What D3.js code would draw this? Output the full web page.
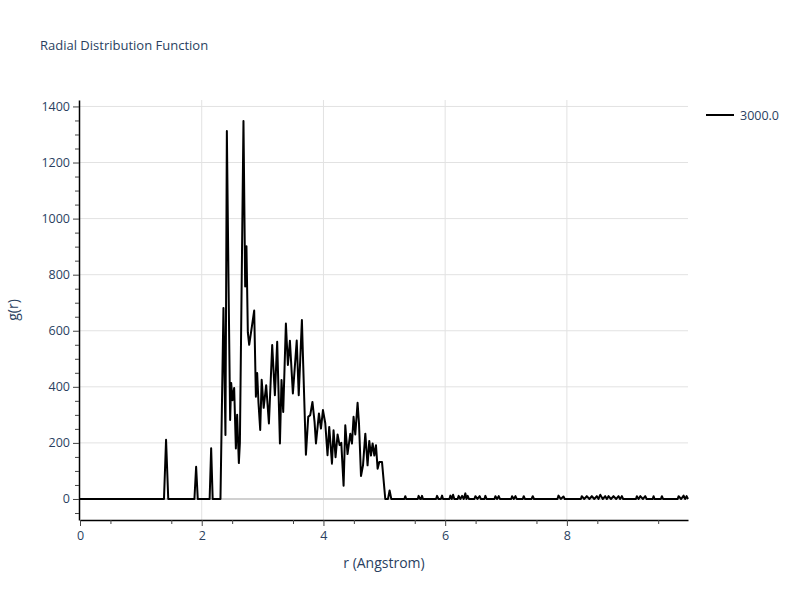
<!DOCTYPE html>
<html><head><meta charset="utf-8">
<script src="https://cdn.jsdelivr.net/npm/d3@7/dist/d3.min.js"></script>
<style>body{margin:0;background:#fff;} text{font-family:"Open Sans",sans-serif;}</style>
</head><body>
<svg id="c" width="800" height="600"></svg>
<script>
const title = "Radial Distribution Function";
const xLabel = "r (Angstrom)";
const yLabel = "g(r)";
const seriesName = "3000.0";
const xTicks = [0, 2, 4, 6, 8];
const yTicks = [0, 200, 400, 600, 800, 1000, 1200, 1400];

// r values (Angstrom)
const rValues = [
 0, 1.38, 1.414, 1.45, 1.88, 1.908, 1.935, 2.13, 2.155, 2.18,
 2.308, 2.357, 2.39, 2.413, 2.44, 2.467, 2.484, 2.505, 2.533, 2.561, 2.582, 2.61, 2.627,
 2.686, 2.714, 2.735, 2.758, 2.78, 2.824, 2.862, 2.89, 2.911, 2.933, 2.961, 2.985,
 3.018, 3.059, 3.104, 3.158, 3.202, 3.240, 3.285, 3.311, 3.339, 3.383, 3.416, 3.449,
 3.498, 3.561, 3.594, 3.646, 3.668, 3.712, 3.750, 3.783, 3.819, 3.854, 3.877, 3.926,
 3.959, 3.992, 4.030, 4.067, 4.095, 4.140, 4.166, 4.199, 4.232, 4.265, 4.293, 4.331,
 4.359, 4.396, 4.441, 4.469, 4.495, 4.523, 4.561, 4.584, 4.617, 4.650, 4.688, 4.725,
 4.753, 4.781, 4.808, 4.836, 4.863, 4.890, 4.918, 4.962, 5.016, 5.060, 5.087, 5.115,
 5.33, 5.345, 5.36, 5.55, 5.564, 5.59, 5.605, 5.620, 5.635, 5.85, 5.867, 5.89, 5.93, 5.949, 5.965,
 6.07, 6.086, 6.108, 6.130, 6.15, 6.205, 6.222, 6.25, 6.278, 6.305, 6.332, 6.35, 6.370, 6.39,
 6.48, 6.497, 6.53, 6.567, 6.585, 6.645, 6.661, 6.68, 6.81, 6.826, 6.853, 6.880, 6.90,
 7.085, 7.100, 7.128, 7.155, 7.175, 7.275, 7.291, 7.31, 7.42, 7.439, 7.46,
 7.845, 7.862, 7.90, 7.944, 7.965, 8.23, 8.245, 8.285, 8.327, 8.37, 8.410, 8.45, 8.492,
 8.52, 8.548, 8.59, 8.630, 8.657, 8.684, 8.725, 8.766, 8.81, 8.849, 8.875, 8.903, 8.925,
 9.135, 9.150, 9.178, 9.206, 9.25, 9.288, 9.31, 9.41, 9.424, 9.44, 9.545, 9.561, 9.58,
 9.82, 9.836, 9.877, 9.918, 9.942, 9.967, 9.99
];
// g(r) values
const gValues = [
 0, 0, 211, 0, 0, 115, 0, 0, 181, 0,
 0, 681, 228, 1312, 780, 282, 414, 352, 396, 180, 300, 128, 200,
 1348, 758, 901, 593, 550, 615, 672, 365, 449, 342, 246, 425,
 325, 406, 269, 549, 370, 561, 198, 424, 310, 626, 478, 564,
 376, 565, 370, 638, 475, 158, 293, 299, 346, 275, 198, 305,
 251, 317, 270, 156, 257, 126, 245, 149, 230, 192, 200, 47,
 263, 160, 233, 198, 293, 230, 343, 270, 82, 120, 233, 120,
 207, 155, 198, 155, 192, 108, 132, 132, 0, 0, 30, 0,
 0, 10, 0, 0, 11, 0, 0, 11, 0, 0, 11, 0, 0, 12, 0,
 0, 12, 0, 15, 0, 0, 11, 0, 11, 0, 20, 0, 11, 0,
 0, 10, 0, 10, 0, 0, 11, 0, 0, 10, 0, 10, 0,
 0, 10, 0, 10, 0, 0, 10, 0, 0, 10, 0,
 0, 12, 0, 9, 0, 0, 10, 0, 10, 0, 10, 0, 10,
 0, 15, 0, 10, 0, 10, 0, 10, 0, 10, 0, 10, 0,
 0, 10, 0, 10, 0, 10, 0, 0, 10, 0, 0, 10, 0,
 0, 10, 0, 12, 0, 10, 0
];

const svg = d3.select("#c");
const L = 80, R = 688, T = 100, B = 520;
const x = d3.scaleLinear().domain([0, 9.99]).range([L, R]);
const y = d3.scaleLinear().domain([-75, 1423]).range([B, T]);
const txt = "#2a3f5f";

// grid
svg.append("g").selectAll("line").data(xTicks.filter(d => d !== 0)).join("line")
  .attr("x1", d => x(d)).attr("x2", d => x(d)).attr("y1", T).attr("y2", B)
  .attr("stroke", "#e2e2e2").attr("stroke-width", 1);
svg.append("g").selectAll("line").data(yTicks).join("line")
  .attr("x1", L).attr("x2", R).attr("y1", d => y(d)).attr("y2", d => y(d))
  .attr("stroke", d => d === 0 ? "#d0d0d0" : "#e2e2e2").attr("stroke-width", d => d === 0 ? 2 : 1);

// line
const pts = rValues.map((r, i) => [r, gValues[i]]);
svg.append("path").datum(pts)
  .attr("fill", "none").attr("stroke", "#000").attr("stroke-width", 2)
  .attr("stroke-linejoin", "round")
  .attr("d", d3.line().x(d => x(d[0])).y(d => y(d[1])));

// axes
const xAxis = svg.append("g").attr("transform", `translate(0,${B})`)
  .call(d3.axisBottom(x).tickValues(xTicks).tickSize(6).tickSizeOuter(0).tickPadding(5).tickFormat(d3.format("d")));
const xMinor = svg.append("g").attr("transform", `translate(0,${B})`)
  .call(d3.axisBottom(x).tickValues(d3.range(0.5, 10, 1)).tickSize(4).tickFormat(""));
const yAxis = svg.append("g").attr("transform", `translate(${L - 1},0)`)
  .call(d3.axisLeft(y).tickValues(yTicks).tickSize(6).tickSizeOuter(0).tickPadding(3).tickFormat(d3.format("d")));
const yMinor = svg.append("g").attr("transform", `translate(${L - 1},0)`)
  .call(d3.axisLeft(y).tickValues(d3.range(-50, 1424, 50).filter(v => v % 200 !== 0)).tickSize(4).tickFormat(""));
[xAxis, xMinor, yAxis, yMinor].forEach(g => {
  g.selectAll(".domain").attr("stroke", "#000").attr("stroke-width", 1.5);
  g.selectAll(".tick line").attr("stroke", "#444");
  g.selectAll(".tick text").attr("fill", txt).style("font-size", "12.5px").style("font-family", "'Open Sans',sans-serif");
});
xMinor.select(".domain").remove();
yMinor.select(".domain").remove();

// titles
svg.append("text").attr("x", 40).attr("y", 50).attr("fill", txt)
  .style("font-size", "13px").text(title);
svg.append("text").attr("x", (L + R) / 2).attr("y", 568).attr("text-anchor", "middle")
  .attr("fill", txt).style("font-size", "14px").text(xLabel);
svg.append("text").attr("transform", `translate(18,${(T + B) / 2}) rotate(-90)`)
  .attr("text-anchor", "middle").attr("fill", txt).style("font-size", "14px").text(yLabel);

// legend
svg.append("line").attr("x1", 706).attr("x2", 734).attr("y1", 115).attr("y2", 115)
  .attr("stroke", "#000").attr("stroke-width", 2);
svg.append("text").attr("x", 740).attr("y", 119.5).attr("fill", txt)
  .style("font-size", "12.5px").text(seriesName);
</script>
</body></html>
